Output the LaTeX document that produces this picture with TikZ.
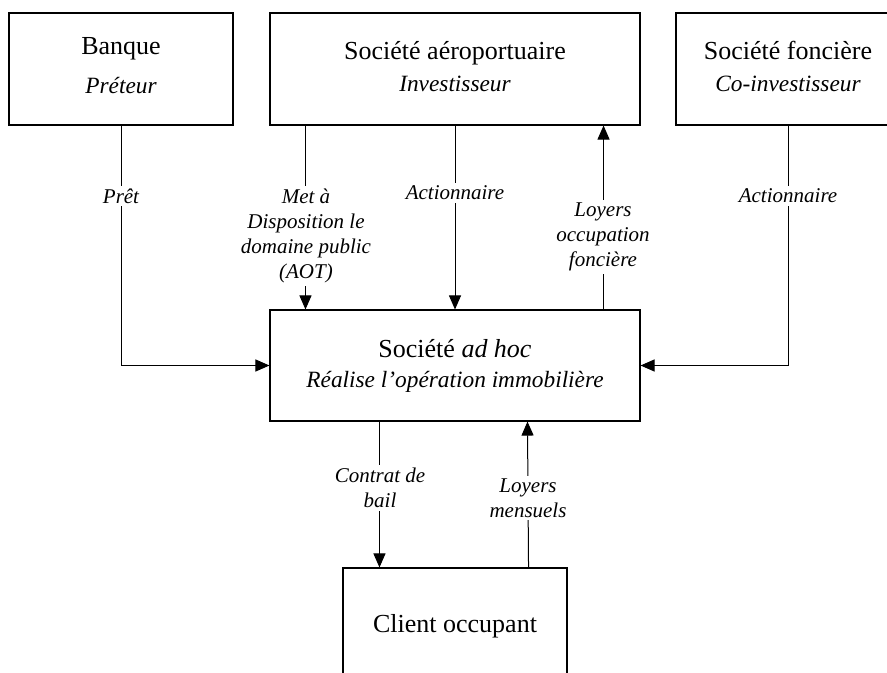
\documentclass[tikz,border=0pt]{standalone}
\usepackage{fontspec}
\setmainfont{Liberation Serif}
\usetikzlibrary{arrows.meta}

\tikzset{
  box/.style={draw, line width=0.8pt, minimum width=168pt, minimum height=84pt, inner sep=0pt},
  widebox/.style={box, minimum width=277.5pt},
  ttl/.style={anchor=base, inner sep=0pt, font=\fontsize{19.5pt}{23pt}\selectfont},
  sub/.style={anchor=base, inner sep=0pt, font=\fontsize{17.5pt}{21pt}\selectfont\itshape},
  lbl/.style={fill=white, inner sep=2pt, align=center,
              font=\fontsize{15.75pt}{18.75pt}\selectfont\itshape},
  arr/.style={line width=0.75pt, -{Triangle[length=10.5pt,width=9pt]}},
  link/.style={line width=0.75pt}
}

\begin{document}
\begin{tikzpicture}[x=0.75pt, y=-0.75pt]
\useasboundingbox (0,0) rectangle (887,673);
\clip (0,0) rectangle (887,673);

% partners
\node[box] (bank) at (121,69) {};
\node[ttl] (bank-t) at (121,55) {Banque};
\node[sub] (bank-s) at (121,94) {Préteur};

\node[widebox] (aero) at (455,69) {};
\node[ttl] (aero-t) at (455,60) {Société aéroportuaire};
\node[sub] (aero-s) at (455,92) {Investisseur};

\node[box] (fonc) at (788,69) {};
\node[ttl] (fonc-t) at (788,60) {Société foncière};
\node[sub] (fonc-s) at (788,92) {Co-investisseur};

% special purpose company
\node[widebox, minimum height=83.25pt] (adhoc) at (455,365.5) {};
\node[ttl] (adhoc-t) at (455,357) {Société \textit{ad hoc}};
\node[sub] (adhoc-s) at (455,387) {Réalise l’opération immobilière};

% tenant
\node[box] (client) at (455,624) {};
\node[ttl] (client-t) at (455,632) {Client occupant};

% flows
\draw[arr] (bank.south) |- (adhoc.west);
\node[lbl] (l-pret) at (121,196) {Prêt};

\draw[arr] ([xshift=27pt]aero.south west) -- ([xshift=27pt]adhoc.north west);
\node[lbl] (l-aot) at (306,236) {Met à\\Disposition le\\domaine public\\(AOT)};

\draw[arr] (aero.south) -- (adhoc.north);
\node[lbl] (l-act1) at (455,193) {Actionnaire};

\draw[arr] ([xshift=-27.75pt]adhoc.north east) -- ([xshift=-27.75pt]aero.south east);
\node[lbl] (l-loy1) at (603,237) {Loyers\\occupation\\foncière};

\draw[arr] (fonc.south) |- (adhoc.east);
\node[lbl] (l-act2) at (788,196) {Actionnaire};

\draw[arr] ([xshift=82.5pt]adhoc.south west) -- ([xshift=27.75pt]client.north west);
\node[lbl] (l-bail) at (380,488) {Contrat de\\bail};

\draw[arr] ([xshift=-29.25pt]client.north east) -- ([xshift=193.5pt]adhoc.south west);
\node[lbl] (l-loy2) at (528,498) {Loyers\\mensuels};
\end{tikzpicture}
\end{document}
